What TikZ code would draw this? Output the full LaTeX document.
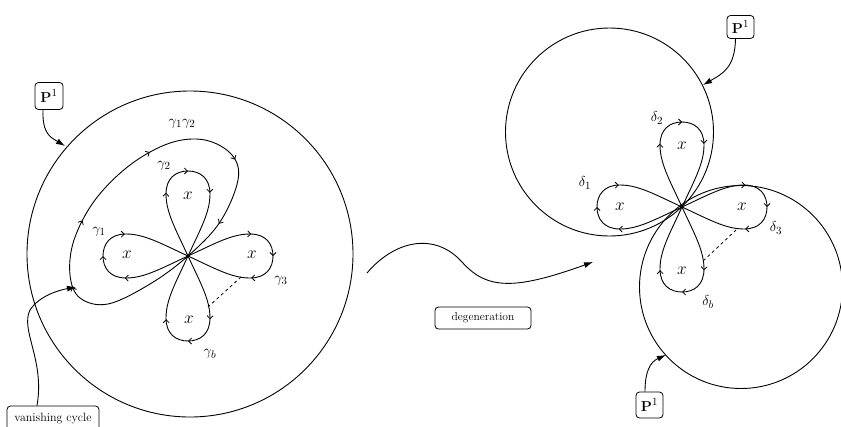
\documentclass[tikz,border=0pt]{standalone}
\usetikzlibrary{decorations.markings,arrows.meta}
\tikzset{
  curve/.style={line width=0.9pt},
  barb/.tip={Straight Barb[length=3pt,width=6pt,line width=0.8pt]},
  tip/.style={-{Latex[length=9pt,width=6pt]}, line width=0.9pt},
  labbox/.style={draw, rounded corners=3.5pt, line width=0.8pt, inner sep=0pt},
  petalmarks/.style={postaction={decorate}, decoration={markings,
      mark=at position 0.33 with {\arrow{barb}},
      mark=at position 0.5 with {\arrow{barb}},
      mark=at position 0.67 with {\arrow{barb}}}},
  loopmarks/.style={postaction={decorate}, decoration={markings,
      mark=at position 0.175 with {\arrow{barb}},
      mark=at position 0.31 with {\arrow{barb}},
      mark=at position 0.50 with {\arrow{barb}},
      mark=at position 0.685 with {\arrow{barb}},
      mark=at position 0.82 with {\arrow{barb}}}},
  petal/.pic={\draw[curve,petalmarks] (0,0) .. controls (28,-13) and (44,-22) .. (62,-22)
      .. controls (78,-22) and (85,-12) .. (85,0)
      .. controls (85,12) and (78,22) .. (62,22)
      .. controls (44,22) and (28,13) .. (0,0);},
  xlab/.style={font=\fontsize{18}{20}\selectfont},
  glab/.style={font=\fontsize{15}{17}\selectfont},
}
\begin{document}
\begin{tikzpicture}[x=1pt,y=-1pt]
\useasboundingbox (0,0) rectangle (841,426);

% ---------- left picture ----------
\draw[curve] (190,254) circle[radius=163];
\coordinate (L) at (188,256);
\path (L) pic {petal};
\path (L) pic[rotate=90] {petal};
\path (L) pic[rotate=180] {petal};
\path (L) pic[rotate=-90] {petal};
\draw[curve,loopmarks] plot[smooth cycle, tension=0.6] coordinates {
  (188,256) (150,284) (108,304) (80,298) (70,275) (74,240) (95,200)
  (130,165) (170,143) (205,140) (232,155) (238,180) (220,222)};
\coordinate (la) at (241,277);
\coordinate (lb) at (208,307);
\draw[dashed, line width=0.8pt] (la) -- (lb);

\node[xlab] (xl1) at (127,255) {$x$};
\node[xlab] (xl2) at (188,196) {$x$};
\node[xlab] (xl3) at (252,255) {$x$};
\node[xlab] (xl4) at (189,320) {$x$};

\node[glab] (g12) at (182,124) {$\gamma_1\gamma_2$};
\node[glab] (g2) at (164,166) {$\gamma_2$};
\node[glab] (g1) at (99,232) {$\gamma_1$};
\node[glab] (g3) at (281,281) {$\gamma_3$};
\node[glab] (gb) at (210,354) {$\gamma_b$};

\node[labbox, minimum width=28pt, minimum height=27pt, font=\fontsize{15}{17}\selectfont] (pl) at (49,96) {$\mathbf{P}^1$};
\coordinate (plt) at (65,146);
\draw[tip] ([xshift=-6pt]pl.south) .. controls (42,135) and (52,138) .. (plt);

\node[labbox, minimum width=92pt, minimum height=26pt, font=\fontsize{12}{14}\selectfont] (vc) at (53,419) {vanishing cycle};
\coordinate (vct) at (76,287);
\draw[tip] ([xshift=-16pt]vc.north) .. controls (45,360) and (20,330) .. (30,310) .. controls (40,295) and (60,290) .. (vct);

% ---------- degeneration ----------
\coordinate (d0) at (367,273);
\coordinate (d1) at (593,262);
\draw[tip] (d0) .. controls (395,240) and (435,232) .. (462,262) .. controls (487,290) and (515,290) .. (d1);
\node[labbox, minimum width=96pt, minimum height=22pt, font=\fontsize{11.5}{13}\selectfont] (deg) at (483,318) {degeneration};

% ---------- right picture ----------
\draw[curve] (609.5,132) circle[radius=104];
\draw[curve] (741,287) circle[radius=101.5];
\coordinate (R) at (682,207);
\path (R) pic {petal};
\path (R) pic[rotate=90] {petal};
\path (R) pic[rotate=180] {petal};
\path (R) pic[rotate=-90] {petal};
\coordinate (ra) at (736,230);
\coordinate (rb) at (702,262);
\draw[dashed, line width=0.8pt] (ra) -- (rb);

\node[xlab] (xr1) at (620,207) {$x$};
\node[xlab] (xr2) at (682,146) {$x$};
\node[xlab] (xr3) at (742,207) {$x$};
\node[xlab] (xr4) at (682,271) {$x$};

\node[glab] (d2l) at (657,118) {$\delta_2$};
\node[glab] (d1l) at (585,183) {$\delta_1$};
\node[glab] (d3l) at (776,228) {$\delta_3$};
\node[glab] (dbl) at (708,302) {$\delta_b$};

\node[labbox, minimum width=27pt, minimum height=23pt, font=\fontsize{15}{17}\selectfont] (pr1) at (740.5,27) {$\mathbf{P}^1$};
\coordinate (pr1t) at (703,85);
\draw[tip] ([xshift=-5pt]pr1.south) .. controls (735,68) and (722,74) .. (pr1t);

\node[labbox, minimum width=27pt, minimum height=26pt, font=\fontsize{15}{17}\selectfont] (pr2) at (649.5,405) {$\mathbf{P}^1$};
\coordinate (pr2t) at (666,355);
\draw[tip] ([xshift=-4.5pt]pr2.north) .. controls (645,372) and (650,362) .. (pr2t);
\end{tikzpicture}
\end{document}
